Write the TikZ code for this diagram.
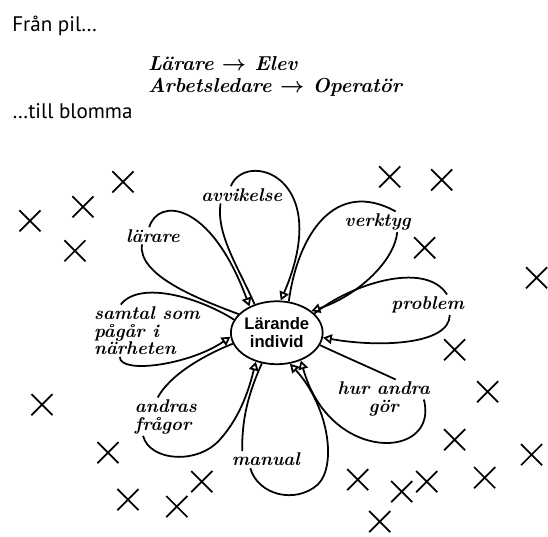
\documentclass[tikz,border=0pt]{standalone}
\usepackage{fontspec}
\newfontfamily\rubrikfont{PT Sans}
\newfontfamily\mittfont{Liberation Sans}
\usetikzlibrary{arrows.meta}
\usetikzlibrary{shapes.geometric, shapes.misc}
\usetikzlibrary{calc}
\tikzset{
    hand/.style={
        font=\fontsize{10.5}{10}\selectfont\bfseries\itshape,
        inner sep=1pt
    },
    petal/.style={
        line width=1pt,
        draw=black
    },
    inpil/.style={
        petal,
        -{Triangle[open,length=5pt,width=5.5pt]}
    }
}

\begin{document}
\begin{tikzpicture}[
x=0.02cm, y=-0.02cm,
kryss/.style={cross out, draw=black, line width=1pt, minimum size=11pt, inner sep=0pt},
rubrik/.style={anchor=base west, inner sep=0pt, font=\rubrikfont\fontsize{12}{14}\selectfont},
skrift/.style={anchor=north west, inner sep=0pt, align=left, font=\fontsize{11.5}{12.6}\selectfont\bfseries\itshape}
]
\fill[white] (0,0) rectangle (548,537);

\node[rubrik] (fran) at (12,32) {Från pil…};
\node[skrift] (pilar) at (148,56) {Lärare {\boldmath$\rightarrow$} Elev\\Arbetsledare {\boldmath$\rightarrow$} Operatör};
\node[rubrik] (till) at (12,119) {…till blomma};

\node[ellipse, draw, line width=1pt, minimum width=1.6cm, minimum height=1.26cm, inner sep=0pt,
      align=center, font=\mittfont\fontsize{9.5}{10}\selectfont\bfseries] (li) at (277,333) {Lärande\\individ};

\node[hand] (lr) at (153,236) {lärare};
\node[hand] (av) at (242,195) {avvikelse};
\node[hand] (vk) at (378,222) {verktyg};
\node[hand] (pr) at (428,305) {problem};
\node[hand, align=center] (ha) at (384,399) {hur andra\\gör};
\node[hand] (ma) at (266,460) {manual};
\node[hand, align=left] (af) at (166,417) {andras\\frågor};
\node[hand, align=left] (ss) at (147,331) {samtal som\\pågår i\\närheten};

\draw[petal] (li.154) .. controls (195,298) and (138,275) .. (lr.218);
\draw[inpil] (lr.113) .. controls (158,198) and (210,200) .. (li.136);

\draw[petal] (li.128) .. controls (240,270) and (216,235) .. (av.202);
\draw[inpil] (av.142) .. controls (245,150) and (335,175) .. (li.83);

\draw[petal] (li.69) .. controls (298,235) and (335,178) .. (vk.30);
\draw[inpil] (vk.-28) .. controls (395,260) and (360,295) .. (li.32);

\draw[petal] (li.27) .. controls (350,285) and (425,260) .. (pr.28);
\draw[inpil] (pr.-25) .. controls (450,345) and (380,348) .. (li.-6);

\draw[petal] (li.-16) .. controls (345,357) and (375,370) .. ($(ha.north)+(12,0)$);
\draw[inpil] ($(ha.north east)+(-8,20)$) .. controls (440,460) and (330,465) .. (li.-49);

\draw[petal] (li.-116) .. controls (248,395) and (242,420) .. (ma.160);
\draw[inpil] (ma.209) .. controls (258,495) and (295,505) .. (318,485)
    .. controls (338,465) and (328,405) .. (li.-67);

\draw[petal] (li.-166) .. controls (205,355) and (170,375) .. (af.113);
\draw[inpil] (af.220) .. controls (150,462) and (198,465) .. (220,440)
    .. controls (238,420) and (248,395) .. (li.-126);

\draw[petal] (li.163) .. controls (200,298) and (140,280) .. (ss.135);
\draw[inpil] (ss.224) .. controls (120,375) and (190,365) .. (li.185);

\foreach \x/\y [count=\i] in {123/182, 83/207, 30/221, 75/251,
    390/177, 442/180, 425/248, 537/278,
    455/350, 488/392, 455/440, 485/478, 532/455,
    358/480, 402/492, 427/482, 380/522,
    42/405, 108/453, 128/500, 177/507, 202/482}
    \node[kryss] (k\i) at (\x,\y) {};
\end{tikzpicture}
\end{document}
